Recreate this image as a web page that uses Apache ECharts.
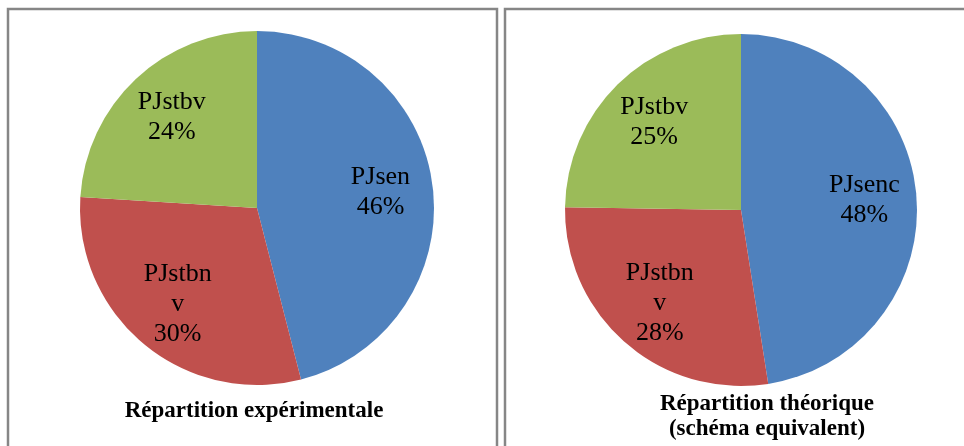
<!DOCTYPE html>
<html>
<head>
<meta charset="utf-8">
<style>
  html, body { margin: 0; padding: 0; background: #fff; }
  #chart { width: 964px; height: 446px; }
</style>
<script src="https://cdn.jsdelivr.net/npm/echarts@6/dist/echarts.min.js"></script>
</head>
<body>
<div id="chart"></div>
<script>
// Experimental split (left pie)
const expCategories = ['PJsen', 'PJstbn\nv', 'PJstbv'];
const expValues = [46, 30, 24];
// Theoretical split, equivalent scheme (right pie)
const theoCategories = ['PJsenc', 'PJstbn\nv', 'PJstbv'];
const theoValues = [48, 28, 25];

const sliceColors = ['#4F81BD', '#C0504D', '#9BBB59'];
const pieCenters = [[257, 208], [741, 210]];
const pieRadii = [177, 176];
// labels sit at ~68% of the radius instead of the default 50%
const labelStretch = 0.68 / 0.5;

const serif = '"Liberation Serif", "Times New Roman", serif';

function toData(names, values) {
  return names.map((n, i) => ({ name: n, value: values[i], itemStyle: { color: sliceColors[i] } }));
}

function pieSeries(idx, names, values) {
  return {
    type: 'pie',
    center: pieCenters[idx],
    radius: [0, pieRadii[idx]],
    startAngle: 90,
    clockwise: true,
    silent: true,
    animation: false,
    itemStyle: { borderWidth: 0 },
    label: {
      show: true,
      position: 'inside',
      formatter: p => p.name + '\n' + p.value + '%',
      fontFamily: serif,
      fontSize: 26,
      lineHeight: 30,
      color: '#000',
      align: 'center'
    },
    labelLine: { show: false },
    labelLayout: function (p) {
      const c = pieCenters[idx];
      const r = p.labelRect;
      const lx = r.x + r.width / 2;
      const ly = r.y + r.height / 2;
      return { dx: (lx - c[0]) * (labelStretch - 1), dy: (ly - c[1]) * (labelStretch - 1) };
    },
    data: toData(names, values)
  };
}

const chart = echarts.init(document.getElementById('chart'), null, { renderer: 'canvas' });
chart.setOption({
  backgroundColor: '#fff',
  animation: false,
  title: [
    {
      text: 'Répartition expérimentale',
      left: 254, top: 399, textAlign: 'center', padding: 0,
      textStyle: { fontFamily: serif, fontWeight: 'bold', fontSize: 23, lineHeight: 25, color: '#000' }
    },
    {
      text: 'Répartition théorique\n(schéma equivalent)',
      left: 767, top: 392, textAlign: 'center', padding: 0,
      textStyle: { fontFamily: serif, fontWeight: 'bold', fontSize: 23, lineHeight: 25, color: '#000' }
    }
  ],
  graphic: [
    { type: 'rect', silent: true, shape: { x: 8, y: 9, width: 489, height: 470 },
      style: { fill: 'none', stroke: '#868686', lineWidth: 2.5 } },
    { type: 'rect', silent: true, shape: { x: 505, y: 9, width: 500, height: 470 },
      style: { fill: 'none', stroke: '#868686', lineWidth: 2.5 } }
  ],
  series: [
    pieSeries(0, expCategories, expValues),
    pieSeries(1, theoCategories, theoValues)
  ]
});
</script>
</body>
</html>
